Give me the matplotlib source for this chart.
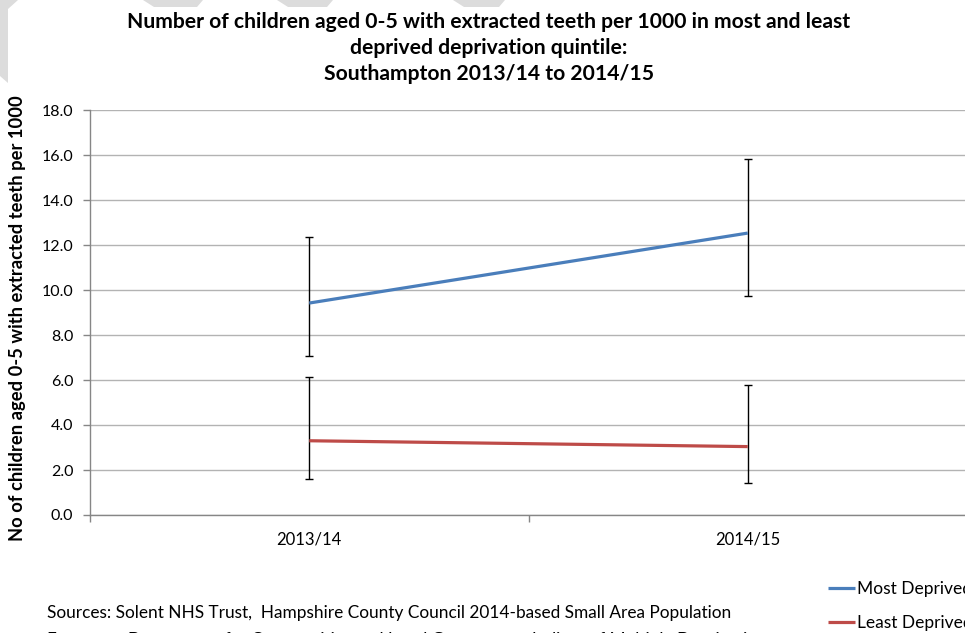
import matplotlib
matplotlib.use("Agg")
import matplotlib.pyplot as plt
from matplotlib.patches import Polygon
import numpy as np

plt.rcParams['font.family'] = ['Lato', 'DejaVu Sans']

categories = ["2013/14", "2014/15"]
most_deprived = [9.42, 12.53]
most_upper = [12.36, 15.84]
most_lower = [7.08, 9.75]
least_deprived = [3.30, 3.04]
least_upper = [6.12, 5.79]
least_lower = [1.61, 1.42]
y_ticks = [0, 2, 4, 6, 8, 10, 12, 14, 16, 18]

W, H = 965, 633
fig = plt.figure(figsize=(W / 100, H / 100), dpi=100)

# light watermark shapes at top
wm = "#dcdcdc"
shapes = [
    [(0, 0), (18, 0), (8, 9), (8, 83), (0, 76)],
    [(143, 0), (203, 0), (197, 7), (154, 7)],
    [(277, 0), (333, 0), (327, 7), (288, 7)],
    [(453, 0), (505, 0), (499, 7), (464, 7)],
]
for s in shapes:
    fig.patches.append(Polygon([(x / W, 1 - y / H) for x, y in s], closed=True,
                               transform=fig.transFigure, facecolor=wm,
                               edgecolor='none', zorder=0))

ax = fig.add_axes([90 / W, (H - 515) / H, (967 - 90) / W, (515 - 110) / H])
x = np.arange(len(categories))

ax.errorbar(x, most_deprived,
            yerr=[np.array(most_deprived) - np.array(most_lower),
                  np.array(most_upper) - np.array(most_deprived)],
            fmt='none', ecolor='black', elinewidth=1, capsize=3, capthick=1, zorder=3)
ax.errorbar(x, least_deprived,
            yerr=[np.array(least_deprived) - np.array(least_lower),
                  np.array(least_upper) - np.array(least_deprived)],
            fmt='none', ecolor='black', elinewidth=1, capsize=3, capthick=1, zorder=3)
ax.plot(x, most_deprived, color='#4a7ebb', lw=2.3, label='Most Deprived',
        solid_capstyle='butt', zorder=4)
ax.plot(x, least_deprived, color='#be4b48', lw=2.3, label='Least Deprived',
        solid_capstyle='butt', zorder=4)

ax.set_xlim(-0.5, 1.5)
ax.set_ylim(0, 18)
ax.set_yticks(y_ticks)
ax.set_yticklabels([f"{v:.1f}" for v in y_ticks])
ax.set_xticks(x)
ax.set_xticklabels(categories)
ax.set_xticks([-0.5, 0.5, 1.5], minor=True)
ax.tick_params(axis='x', which='major', length=0, pad=12, labelsize=12)
ax.tick_params(axis='x', which='minor', length=5, color='#868686', width=1)
ax.tick_params(axis='y', length=5, color='#868686', width=1, pad=7, labelsize=11.5)
ax.grid(axis='y', color='#b3b3b3', lw=1)
ax.set_axisbelow(True)
for side in ['top', 'right']:
    ax.spines[side].set_visible(False)
for side in ['left', 'bottom']:
    ax.spines[side].set_color('#868686')
    ax.spines[side].set_linewidth(1)

fig.text(18 / W, 1 - 318 / H, "No of children aged 0-5 with extracted teeth per 1000",
         rotation=90, ha='center', va='center', fontsize=13.2, fontweight='bold')

title_lines = ["Number of children aged 0-5 with extracted teeth per 1000 in most and least",
               "deprived deprivation quintile:",
               "Southampton 2013/14 to 2014/15"]
for line, yc in zip(title_lines, [22, 48, 74]):
    fig.text(489 / W, 1 - yc / H, line, ha='center', va='center',
             fontsize=15.2, fontweight='bold')

source_lines = ["Sources: Solent NHS Trust,  Hampshire County Council 2014-based Small Area Population",
                "Forecasts, Department for Communities and Local Government Indices of Multiple Deprivation"]
for line, yc in zip(source_lines, [613, 640]):
    fig.text(47 / W, 1 - yc / H, line, ha='left', va='center', fontsize=12.4)

fig.legend(loc='upper left', bbox_to_anchor=(828 / W, 1 - 581 / H), frameon=False,
           fontsize=12.5, handlelength=1.55, handletextpad=0.12, labelspacing=1.05,
           borderpad=0, borderaxespad=0)

fig.savefig("out.png", dpi=100)
